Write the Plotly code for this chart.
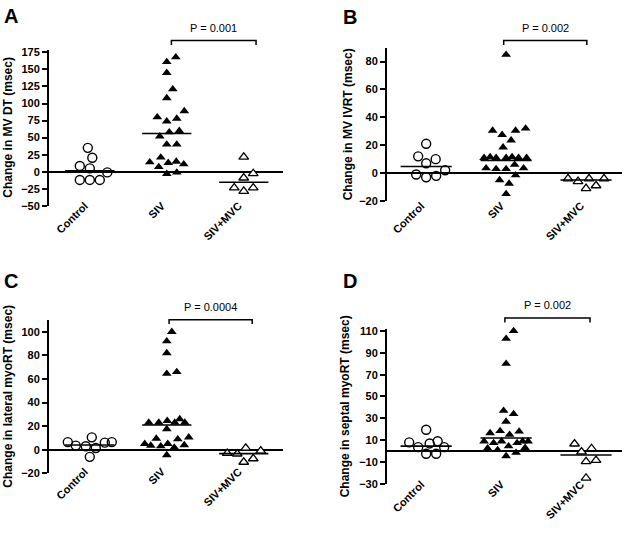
import plotly.graph_objects as go

# ---------------- data ----------------
categories = ["Control", "SIV", "SIV+MVC"]

ctrl_A = [35, 20.5, 8.5, 5, -1, -12, -12, -12]
siv_A = [168, 161, 145, 121, 108, 89, 78, 74, 80, 60, 52, 58, 40, 40, 21, 15, 13, 11, 14, 7, -3, -1]
mvc_A = [21.5, -2.5, -9, -23.5, -28.5, -23.5]
line_A = [1.5, 56, -15.5]

ctrl_B = [21, 10, 12, 7, -1, -3, -2, 2]
siv_B = [85, 32, 30.5, 30.5, 27.5, 23.5, 18.5, 11.5, 11, 11, 11, 11, 11, 11.5, 6, 3.5, 3.5, 3, 3, -1.5, -5, -7.5, -15]
mvc_B = [-6, -4, -4, -4, -11, -9]
line_B = [4.7, 9, -5]

ctrl_C = [10.5, 6.5, 6, 6.5, 3.5, 3, 1.5, -6]
siv_C = [100, 92, 82, 66, 64.5, 26, 24.5, 23, 23, 23, 23, 17.5, 10.5, 9, 9.5, 5, 3.5, 4, 5, 2, 3, -4.5]
mvc_C = [1.5, -1, -3, -3.5, -7.5, -10.5]
line_C = [4, 21, -3.3]

ctrl_D = [19.5, 9, 7, 8, 3.6, 3.6, -2.4, -2.4]
siv_D = [110, 103, 80, 37, 34, 27, 18.5, 18, 16.5, 15, 9, 7.5, 9, 9, 9, 7.5, 3, 4.5, 2.5, 1, -1.5, -4.5]
mvc_D = [2.4, 6.6, -0.6, -8.4, -9.6, -24.6]
line_D = [4.5, 12, -3.6]

ytitles = ["Change in MV DT (msec)", "Change in MV IVRT (msec)",
           "Change in lateral myoRT (msec)", "Change in septal myoRT (msec)"]
pvals = ["P = 0.001", "P = 0.002", "P = 0.0004", "P = 0.002"]
letters = ["A", "B", "C", "D"]
yticks_A = list(range(-50, 176, 25))
yticks_B = list(range(-20, 81, 20))
yticks_C = list(range(-20, 101, 20))
yticks_D = list(range(-30, 111, 20))

# ---------------- layout geometry (pixels) ----------------
W, H = 622, 534
FONT = "Liberation Sans, Arial, sans-serif"

panels = [
    dict(data=(ctrl_A, siv_A, mvc_A), lines=line_A, ticks=yticks_A,
         xpx=(49, 283), ypx=(46.5, 205.7), yr=(-50, 179), xr=(-0.53, 2.51),
         br=(1.06, 2.16), br_y=37.3, lab_y=196),
    dict(data=(ctrl_B, siv_B, mvc_B), lines=line_B, ticks=yticks_B,
         xpx=(387, 622), ypx=(44.5, 200.7), yr=(-20, 90), xr=(-0.49, 2.45),
         br=(0.97, 2.01), br_y=37.3, lab_y=196),
    dict(data=(ctrl_C, siv_C, mvc_C), lines=line_C, ticks=yticks_C,
         xpx=(49, 283), ypx=(322, 478.3), yr=(-20, 110), xr=(-0.53, 2.51),
         br=(1.03, 2.11), br_y=321.7, lab_y=467),
    dict(data=(ctrl_D, siv_D, mvc_D), lines=line_D, ticks=yticks_D,
         xpx=(387, 622), ypx=(331, 489), yr=(-30, 112), xr=(-0.49, 2.45),
         br=(0.985, 2.05), br_y=320, lab_y=480),
]
title_x = [8, 348, 8, 345]
letter_pos = [(10.5, 12.5), (350, 13.5), (10.5, 282.5), (350, 282)]


def px2paper_x(px):
    return px / W


def px2paper_y(py):
    return 1 - py / H


def swarm(values, ppu_y, ppu_x, dx=10.0, dy=11.0, maxw=22.0, step=0.5):
    order = sorted(range(len(values)), key=lambda i: values[i])
    placed = []
    offs = [0.0] * len(values)
    cands = [0.0]
    j = 1
    while j * step <= maxw:
        cands += [j * step, -j * step]
        j += 1
    for i in order:
        y = values[i] * ppu_y
        best, bestd = 0.0, -1.0
        for c in cands:
            d = min([((c - px) / dx) ** 2 + ((y - py) / dy) ** 2 for px, py in placed] or [9])
            if d >= 1:
                best = c
                break
            if d > bestd + 1e-9:
                best, bestd = c, d
        placed.append((best, y))
        offs[i] = best / ppu_x
    return offs


fig = go.Figure()
layout = dict(width=W, height=H, margin=dict(l=0, r=0, t=0, b=0),
              paper_bgcolor="white", plot_bgcolor="white", showlegend=False,
              font=dict(family=FONT, color="black"))
shapes, annotations = [], []

styles = [
    dict(symbol="circle-open", size=9, color="black", line=dict(width=1.4, color="black")),
    dict(symbol="triangle-up", size=8.5, color="black", line=dict(width=0, color="black")),
    dict(symbol="triangle-up", size=8.5, color="white", line=dict(width=1.3, color="black")),
]
BOLD = dict(family=FONT, size=11, color="black", weight="bold")

for k, p in enumerate(panels):
    sfx = "" if k == 0 else str(k + 1)
    xa, ya = "x" + sfx, "y" + sfx
    xdom = [px2paper_x(p["xpx"][0]), px2paper_x(p["xpx"][1])]
    ydom = [px2paper_y(p["ypx"][1]), px2paper_y(p["ypx"][0])]
    ppu_y = (p["ypx"][1] - p["ypx"][0]) / (p["yr"][1] - p["yr"][0])
    ppu_x = (p["xpx"][1] - p["xpx"][0]) / (p["xr"][1] - p["xr"][0])

    for g, vals in enumerate(p["data"]):
        offs = swarm(vals, ppu_y, ppu_x)
        fig.add_trace(go.Scatter(
            x=[g + o for o in offs], y=vals, mode="markers",
            marker=styles[g], cliponaxis=False, xaxis=xa, yaxis=ya,
            hoverinfo="skip"))
        fig.add_trace(go.Scatter(
            x=[g - 0.32, g + 0.32], y=[p["lines"][g]] * 2, mode="lines",
            line=dict(color="black", width=1.6), xaxis=xa, yaxis=ya,
            hoverinfo="skip"))

    layout["xaxis" + sfx] = dict(
        domain=xdom, range=list(p["xr"]), anchor="free",
        position=px2paper_y(p["lab_y"]),
        tickvals=[0, 1, 2], ticktext=categories, tickangle=-45,
        tickfont=BOLD, ticklabelshift=-5,
        showline=False, ticks="", showgrid=False, zeroline=False)
    layout["yaxis" + sfx] = dict(
        domain=ydom, range=list(p["yr"]), anchor=xa,
        tickvals=p["ticks"], ticks="outside", ticklen=5, tickwidth=2,
        tickcolor="black", showline=True, linewidth=2, linecolor="black",
        tickfont=BOLD,
        showgrid=False, zeroline=True, zerolinewidth=2, zerolinecolor="black")

    def cx(c):
        return px2paper_x(p["xpx"][0] + (c - p["xr"][0]) * ppu_x)
    x0, x1 = cx(p["br"][0]), cx(p["br"][1])
    yt = px2paper_y(p["br_y"])
    yb = px2paper_y(p["br_y"] + 4.5)
    shapes.append(dict(type="path", xref="paper", yref="paper",
                       path=f"M{x0},{yb} L{x0},{yt} L{x1},{yt} L{x1},{yb}",
                       line=dict(color="black", width=1.5)))
    annotations.append(dict(text=pvals[k], xref="paper", yref="paper",
                            x=(x0 + x1) / 2, y=px2paper_y(p["br_y"] - 5),
                            xanchor="center", yanchor="bottom", showarrow=False,
                            font=dict(family=FONT, size=11, color="black")))
    annotations.append(dict(text="<b>" + ytitles[k] + "</b>", xref="paper", yref="paper",
                            x=px2paper_x(title_x[k]),
                            y=(ydom[0] + ydom[1]) / 2, textangle=-90,
                            xanchor="center", yanchor="middle", showarrow=False,
                            font=dict(family=FONT, size=12, color="black")))
    annotations.append(dict(text="<b>" + letters[k] + "</b>", xref="paper", yref="paper",
                            x=px2paper_x(letter_pos[k][0]), y=px2paper_y(letter_pos[k][1]),
                            xanchor="center", yanchor="middle", showarrow=False,
                            font=dict(family=FONT, size=20, color="black")))

layout["shapes"] = shapes
layout["annotations"] = annotations
fig.update_layout(**layout)
fig.write_html("out.html", config={"displayModeBar": False},
               post_script="document.body.style.margin='0px';")
